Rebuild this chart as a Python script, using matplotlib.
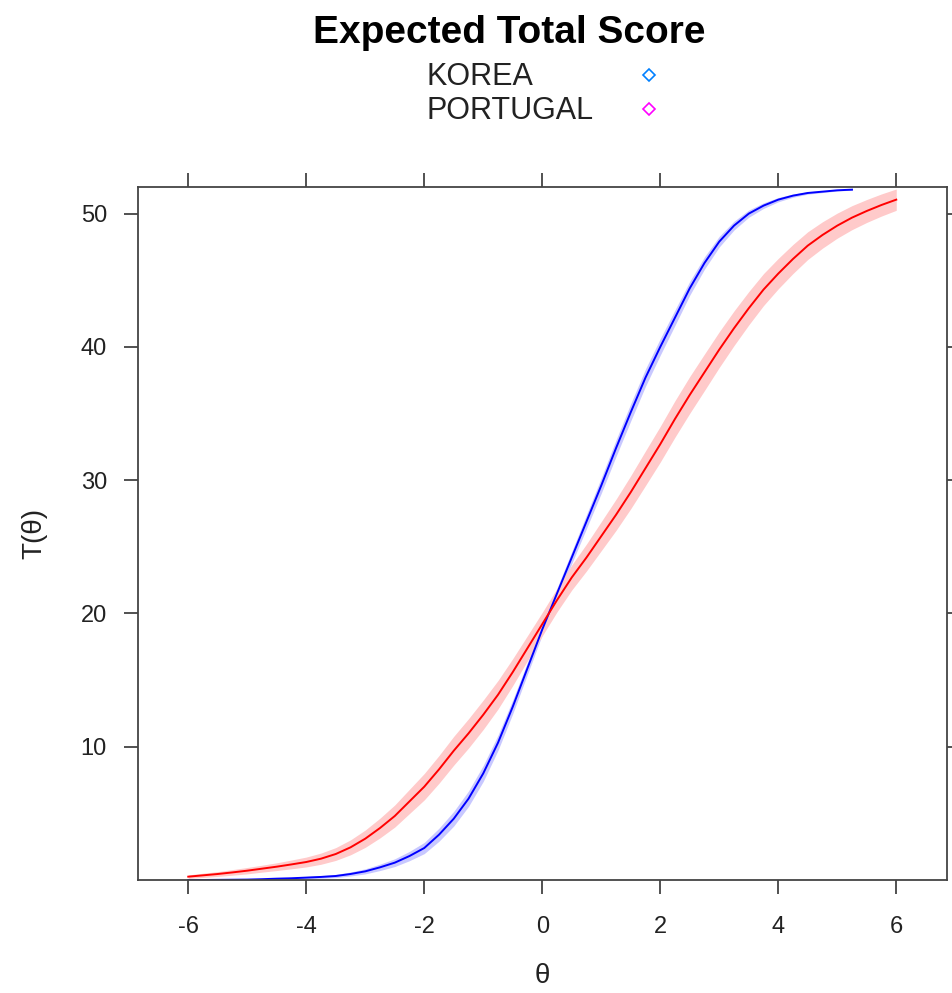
import matplotlib
matplotlib.use('Agg')
import matplotlib.pyplot as plt

plt.rcParams['font.family'] = ['Liberation Sans', 'DejaVu Sans']
plt.rcParams['axes.unicode_minus'] = False

# Expected total score curves, theta in 0.25 steps
theta_korea = [-6.0, -5.75, -5.5, -5.25, -5.0, -4.75, -4.5, -4.25, -4.0, -3.75,
               -3.5, -3.25, -3.0, -2.75, -2.5, -2.25, -2.0, -1.75, -1.5, -1.25,
               -1.0, -0.75, -0.5, -0.25, 0.0, 0.25, 0.5, 0.75, 1.0, 1.25,
               1.5, 1.75, 2.0, 2.25, 2.5, 2.75, 3.0, 3.25, 3.5, 3.75,
               4.0, 4.25, 4.5, 4.75, 5.0, 5.25]
score_korea = [0.0, 0.0, 0.01, 0.02, 0.03, 0.06, 0.1, 0.13, 0.18, 0.23,
               0.3, 0.45, 0.65, 0.95, 1.3, 1.8, 2.4, 3.4, 4.6, 6.1,
               8.0, 10.3, 13.0, 15.9, 18.8, 21.5, 24.2, 26.9, 29.6, 32.4,
               35.1, 37.7, 40.0, 42.2, 44.4, 46.3, 47.9, 49.1, 50.0, 50.6,
               51.05, 51.35, 51.55, 51.65, 51.75, 51.8]
band_korea = [0.02, 0.02, 0.02, 0.03, 0.03, 0.04, 0.05, 0.07, 0.08, 0.1,
              0.12, 0.15, 0.19, 0.24, 0.29, 0.35, 0.42, 0.49, 0.55, 0.58,
              0.6, 0.57, 0.52, 0.45, 0.4, 0.4, 0.45, 0.52, 0.58, 0.62,
              0.65, 0.65, 0.62, 0.58, 0.52, 0.46, 0.4, 0.33, 0.27, 0.21,
              0.16, 0.12, 0.09, 0.07, 0.05, 0.04]

theta_portugal = [-6.0, -5.75, -5.5, -5.25, -5.0, -4.75, -4.5, -4.25, -4.0, -3.75,
                  -3.5, -3.25, -3.0, -2.75, -2.5, -2.25, -2.0, -1.75, -1.5, -1.25,
                  -1.0, -0.75, -0.5, -0.25, 0.0, 0.25, 0.5, 0.75, 1.0, 1.25,
                  1.5, 1.75, 2.0, 2.25, 2.5, 2.75, 3.0, 3.25, 3.5, 3.75,
                  4.0, 4.25, 4.5, 4.75, 5.0, 5.25, 5.5, 5.75, 6.0]
score_portugal = [0.25, 0.35, 0.45, 0.57, 0.7, 0.85, 1.0, 1.17, 1.35, 1.6,
                  1.95, 2.45, 3.1, 3.9, 4.8, 5.9, 7.0, 8.3, 9.7, 11.0,
                  12.4, 13.9, 15.6, 17.4, 19.2, 21.0, 22.7, 24.2, 25.8, 27.4,
                  29.1, 30.9, 32.7, 34.6, 36.4, 38.1, 39.8, 41.4, 42.9, 44.3,
                  45.5, 46.6, 47.6, 48.4, 49.1, 49.7, 50.2, 50.65, 51.05]
band_portugal = [0.13, 0.16, 0.18, 0.21, 0.24, 0.26, 0.29, 0.33, 0.37, 0.42,
                 0.48, 0.56, 0.65, 0.74, 0.83, 0.91, 0.99, 1.04, 1.08, 1.1,
                 1.1, 1.07, 1.01, 0.94, 0.88, 0.88, 0.94, 1.01, 1.09, 1.17,
                 1.24, 1.3, 1.34, 1.37, 1.38, 1.37, 1.34, 1.3, 1.25, 1.2,
                 1.14, 1.09, 1.04, 0.99, 0.94, 0.9, 0.86, 0.83, 0.8]

x_ticks = [-6, -4, -2, 0, 2, 4, 6]
y_ticks = [10, 20, 30, 40, 50]


def plot_expected_score():
    fig = plt.figure(figsize=(9.53, 9.93), dpi=100)
    ax = fig.add_axes([0.1443, 0.1138, 0.8494, 0.6979])

    # confidence bands first, then the lines on top
    lo = [s - b for s, b in zip(score_korea, band_korea)]
    hi = [s + b for s, b in zip(score_korea, band_korea)]
    ax.fill_between(theta_korea, lo, hi, color='#c8c8ff', lw=0)
    lo = [s - b for s, b in zip(score_portugal, band_portugal)]
    hi = [s + b for s, b in zip(score_portugal, band_portugal)]
    ax.fill_between(theta_portugal, lo, hi, color='#ffcaca', lw=0)

    ax.plot(theta_korea, score_korea, color='#0000ff', lw=1.4)
    ax.plot(theta_portugal, score_portugal, color='#ff0000', lw=1.4)

    ax.set_xlim(-6.86, 6.86)
    ax.set_ylim(0, 52)
    ax.set_xticks(x_ticks)
    ax.set_yticks(y_ticks)
    ax.tick_params(direction='out', length=10, width=1.2, colors='#333333',
                   labelcolor='#222222', labelsize=17, pad=16,
                   top=True, right=True)
    ax.tick_params(axis='y', pad=12)
    for s in ax.spines.values():
        s.set_color('#444444')
        s.set_linewidth(1.3)

    ax.set_xlabel('θ', fontsize=20, labelpad=18, color='#222222')
    ax.set_ylabel('T(θ)', fontsize=20, labelpad=24, color='#222222')

    fig.text(0.534, 0.967, 'Expected Total Score', fontsize=28,
             fontweight='bold', ha='center', va='center')

    # key at the top, like lattice's auto.key
    fig.text(0.448, 0.922, 'KOREA', fontsize=22, va='center', color='#222222')
    fig.text(0.448, 0.888, 'PORTUGAL', fontsize=22, va='center',
             color='#222222')
    fig.lines.append(plt.Line2D([0.681], [0.924], marker='D', ms=6, mfc='none',
                                mec='#0080ff', mew=1.2,
                                transform=fig.transFigure))
    fig.lines.append(plt.Line2D([0.681], [0.890], marker='D', ms=6, mfc='none',
                                mec='#ff00ff', mew=1.2,
                                transform=fig.transFigure))

    fig.savefig('out.png', dpi=100)


def main():
    plot_expected_score()


if __name__ == '__main__':
    main()
